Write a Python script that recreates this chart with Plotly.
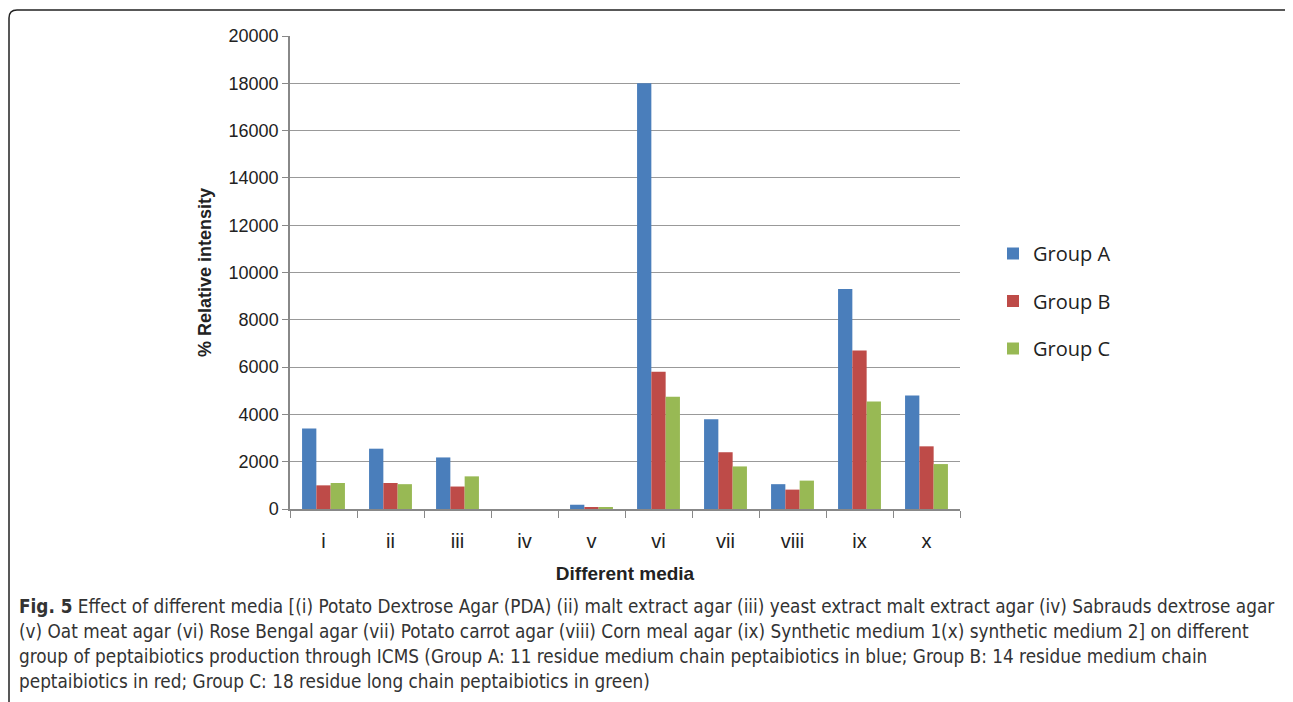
import plotly.graph_objects as go

categories = ["i", "ii", "iii", "iv", "v", "vi", "vii", "viii", "ix", "x"]
group_a = [3400, 2550, 2180, 0, 180, 18000, 3800, 1050, 9300, 4800]
group_b = [1000, 1100, 950, 0, 80, 5800, 2400, 820, 6700, 2650]
group_c = [1100, 1050, 1380, 0, 60, 4750, 1800, 1200, 4550, 1900]
series_names = ["Group A", "Group B", "Group C"]
colors = ["#4a7ebb", "#be4b48", "#98b954"]
y_ticks = [0, 2000, 4000, 6000, 8000, 10000, 12000, 14000, 16000, 18000, 20000]

caption_lines = [
    "<b>Fig. 5</b> Effect of different media [(i) Potato Dextrose Agar (PDA) (ii) malt extract agar (iii) yeast extract malt extract agar (iv) Sabrauds dextrose agar",
    "(v) Oat meat agar (vi) Rose Bengal agar (vii) Potato carrot agar (viii) Corn meal agar (ix) Synthetic medium 1(x) synthetic medium 2] on different",
    "group of peptaibiotics production through ICMS (Group A: 11 residue medium chain peptaibiotics in blue; Group B: 14 residue medium chain",
    "peptaibiotics in red; Group C: 18 residue long chain peptaibiotics in green)",
]

# page body has an 8px margin, so figure coordinates = screen - 8
OFF = 8
W, H = 1293 - OFF, 702 - OFF
L, T = 290 - OFF, 36 - OFF
R = W - (960 - OFF)
B = H - (509 - OFF)
PW, PH = W - L - R, H - T - B


def px(x):
    return (x - OFF - L) / PW


def py(y):
    return (H - B - (y - OFF)) / PH


fig = go.Figure()
for name, vals, col in zip(series_names, [group_a, group_b, group_c], colors):
    fig.add_trace(go.Bar(x=categories, y=vals, name=name, legendgroup=name,
                         marker=dict(color=col, line=dict(width=0))))

fig.update_layout(
    width=W, height=H,
    margin=dict(l=L, r=R, t=T, b=B),
    paper_bgcolor="white", plot_bgcolor="white",
    barmode="group", bargap=0.36, bargroupgap=0,
    font=dict(family="Liberation Sans", color="#222"),
    legend=dict(x=px(993), y=py(234), xanchor="left", yanchor="top",
                font=dict(family="Open Sans", size=20, color="#222"),
                traceorder="grouped", tracegroupgap=18.5,
                itemsizing="constant", itemwidth=30,
                bgcolor="rgba(0,0,0,0)"),
    xaxis=dict(
        showline=True, linecolor="#888", linewidth=1.5,
        ticks="outside", tickson="boundaries", ticklen=7, tickcolor="#888",
        ticklabelstandoff=13,
        tickfont=dict(size=20, family="Liberation Sans", color="#222"),
        title=dict(text="<b>Different media</b>", font=dict(size=19, family="Liberation Sans", color="#222"), standoff=16),
    ),
    yaxis=dict(
        range=[0, 20000], tickvals=y_ticks, tickformat="d",
        showline=True, linecolor="#888", linewidth=1.5,
        ticks="outside", ticklen=6, tickcolor="#888",
        showgrid=True, gridcolor="#999", gridwidth=1.2,
        tickfont=dict(size=18, family="Liberation Sans", color="#222"),
        title=dict(text="<b>% Relative intensity</b>", font=dict(size=18, family="Liberation Sans", color="#222"), standoff=12),
        zeroline=False,
    ),
)

# rounded frame around the figure
x0, x1 = px(9), px(1292)
y0, y1 = py(712), py(10)
rx, ry = 8 / PW, 8 / PH
path = (f"M {x0},{y0} L {x0},{y1 - ry} Q {x0},{y1} {x0 + rx},{y1} "
        f"L {x1 - rx},{y1} Q {x1},{y1} {x1},{y1 - ry} L {x1},{y0}")
fig.add_shape(type="path", path=path, xref="paper", yref="paper",
              line=dict(color="#222", width=1.5), layer="above")

line_y = [606, 631, 656, 681]
for text, yy in zip(caption_lines, line_y):
    fig.add_annotation(text=text, xref="paper", yref="paper", x=px(17), y=py(yy),
                       xanchor="left", yanchor="middle", showarrow=False,
                       font=dict(family="DejaVu Sans Condensed", size=18.8, color="#333"))

fig.write_html("out.html")
